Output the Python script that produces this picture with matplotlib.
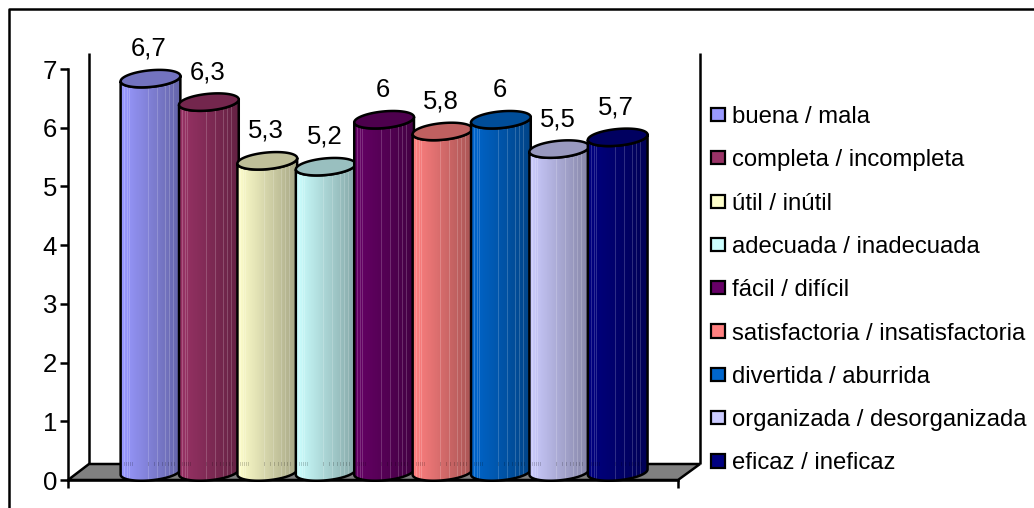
import numpy as np
import matplotlib
matplotlib.use("Agg")
import matplotlib.pyplot as plt
from matplotlib.colors import to_rgb
from matplotlib.lines import Line2D
from matplotlib.patches import Patch, Polygon

labels = ["buena / mala", "completa / incompleta", "útil / inútil",
          "adecuada / inadecuada", "fácil / difícil",
          "satisfactoria / insatisfactoria", "divertida / aburrida",
          "organizada / desorganizada", "eficaz / ineficaz"]
values = [6.7, 6.3, 5.3, 5.2, 6, 5.8, 6, 5.5, 5.7]
value_labels = ["6,7", "6,3", "5,3", "5,2", "6", "5,8", "6", "5,5", "5,7"]
colors = ["#9999FF", "#993366", "#FFFFCC", "#CCFFFF", "#660066",
          "#FF8080", "#0066CC", "#CCCCFF", "#000080"]
yticks = [0, 1, 2, 3, 4, 5, 6, 7]

W, H = 1034, 508
plt.rcParams["font.family"] = ["Liberation Sans", "DejaVu Sans"]
fig = plt.figure(figsize=(W / 100, H / 100), dpi=100)

# Axis frame: front plane of the 3-D chart
L, R, T, B = 68, 678, 69, 480
ax = fig.add_axes([L / W, 1 - B / H, (R - L) / W, (B - T) / H])
PXX, PXY = 58.4, (B - T) / 7
first_centre = 150.5
ax.set_xlim((L - first_centre) / PXX, (R - first_centre) / PXX)
ax.set_ylim(0, 7)
LW = 1.8


def px_x(dx):
    return dx / PXX


def px_y(dy):
    return dy / PXY


for s in ("top", "right"):
    ax.spines[s].set_visible(False)
for s in ("left", "bottom"):
    ax.spines[s].set_linewidth(LW)
ax.patch.set_visible(False)
ax.set_yticks(yticks)
ax.set_xticks(ax.get_xlim())
ax.set_xticklabels([])
ax.tick_params(axis="y", length=5.5, width=LW, labelsize=18.5, pad=2.5)
ax.tick_params(axis="x", length=5.5, width=LW)

# Depth of the 3-D box
x0, x1 = ax.get_xlim()
DX, DY = px_x(21), px_y(16)
ax.add_patch(Polygon([(x0, 0), (x0 + DX, DY), (x1 + DX + px_x(1), DY), (x1, 0)],
                     closed=True, fc="#808080", ec="black", lw=LW,
                     clip_on=False, zorder=1))
wall_top = px_y(B - 53)
ax.plot([x0 + DX, x0 + DX], [DY, wall_top], color="black", lw=LW,
        clip_on=False, zorder=1, solid_capstyle="butt")
ax.plot([x1 + DX + px_x(1)] * 2, [DY, wall_top], color="black", lw=LW,
        clip_on=False, zorder=1, solid_capstyle="butt")

# Cylinders
A, E = 30.0, 8.3          # ellipse half axes, px
TILT = np.deg2rad(5.5)    # rise to the right
BASE = 8.0                # base-centre above the front line, px
stripes = [3, 6, 8, 27, 36, 44, 48, 52]
dash_cols = [3, 5, 7, 9, 11, 27, 33, 37, 41, 44, 47, 50, 53]
body = np.linspace(1.0, 0.66, 60)


def ellipse(t):
    dx = A * np.cos(t) * np.cos(TILT) - E * np.sin(t) * np.sin(TILT)
    dy = A * np.cos(t) * np.sin(TILT) + E * np.sin(t) * np.cos(TILT)
    return dx, dy


for i, (v, c) in enumerate(zip(values, colors)):
    rgb = np.array(to_rgb(c))
    shade = body[:, None] * rgb
    for s in stripes:
        shade[s] = shade[s] * 0.82 + 0.18
    z = 3 + i
    base_y = px_y(BASE)
    top_y = v + base_y
    nrows = int(round(top_y * PXY))
    img = np.repeat(shade[None, :, :], nrows, axis=0)
    # faint row of ticks just above the floor line at the back of the bar
    for s in dash_cols:
        img[nrows - 18:nrows - 14, s] *= 0.82
    t_front = np.linspace(np.pi, 2 * np.pi, 50)   # lower half on screen
    dx, dy = ellipse(t_front)
    front_x = i + px_x(dx)
    outline = np.column_stack([
        np.concatenate([front_x, front_x[::-1]]),
        np.concatenate([base_y + px_y(dy), top_y + px_y(dy[::-1])]),
    ])
    im = ax.imshow(img, extent=(i - px_x(A), i + px_x(A), 0, top_y),
                   aspect="auto", interpolation="nearest", zorder=z,
                   clip_on=True)
    poly = Polygon(outline, closed=True, fc="none", ec="black", lw=LW,
                   zorder=z + 0.1, clip_on=False, joinstyle="round")
    ax.add_patch(poly)
    im.set_clip_path(poly)
    t = np.linspace(0, 2 * np.pi, 100)
    dx, dy = ellipse(t)
    ax.add_patch(Polygon(np.column_stack([i + px_x(dx), top_y + px_y(dy)]),
                         closed=True, fc=rgb * 0.75, ec="black", lw=LW,
                         zorder=z + 0.2, clip_on=False))
    ax.annotate(value_labels[i], (i, top_y), xytext=(-1, 21.5),
                textcoords="offset points", ha="center", va="center",
                fontsize=18.5, color="black", zorder=30, annotation_clip=False)

ax.set_xlim(x0, x1)
ax.set_ylim(0, 7)

# Legend
handles = [Patch(fc=c, ec="black", lw=1.6) for c in colors]
fs = 17.2
px_fs = fs * 100 / 72
fig.legend(handles, labels, loc="upper left", frameon=False, fontsize=fs,
           bbox_to_anchor=(711 / W, 1 - 106 / H), bbox_transform=fig.transFigure,
           borderpad=0, borderaxespad=0, handlelength=14 / px_fs,
           handleheight=14 / px_fs * 0.8, handletextpad=7 / px_fs,
           labelspacing=(45.2 - px_fs * 1.0) / px_fs)

# Outer chart frame (runs off the image to the right and bottom)
fig.add_artist(Line2D([9 / W, 9 / W, 1], [0, 1 - 9 / H, 1 - 9 / H],
                      color="black", lw=LW, transform=fig.transFigure))

fig.savefig("out.png", dpi=100, facecolor="white")
